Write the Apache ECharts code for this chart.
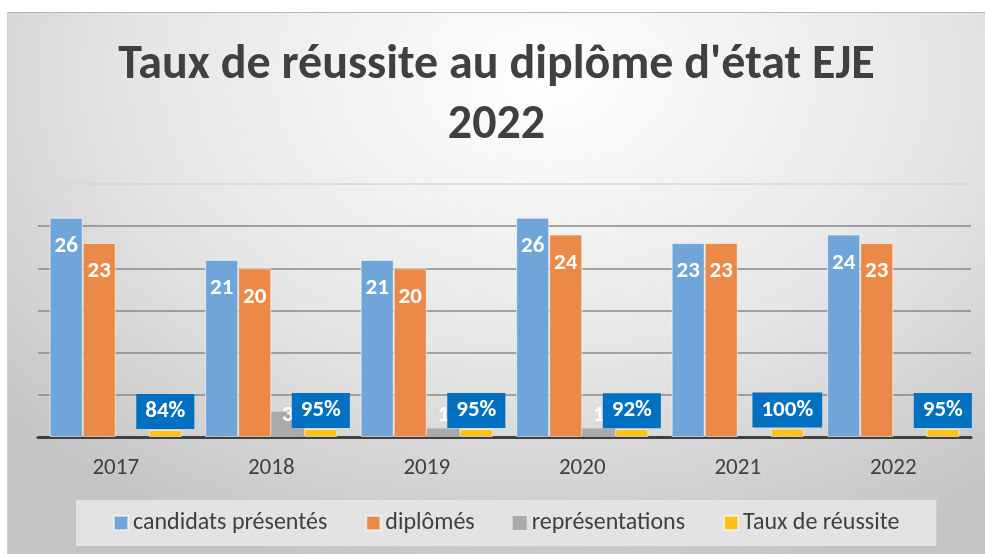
<!DOCTYPE html>
<html>
<head>
<meta charset="utf-8">
<script src="https://cdn.jsdelivr.net/npm/echarts@6/dist/echarts.min.js"></script>
<style>
  html, body { margin: 0; padding: 0; background: #fff; }
  #chart {
    position: absolute; left: 7px; top: 12px; width: 978px; height: 542px;
    border-top: 1px solid #b8b8b8; border-left: 1px solid #d0d0d0;
    box-sizing: border-box;
    background: radial-gradient(ellipse 75% 95% at 55% 12%, #ffffff 0%, #e6e6e6 55%, #c4c4c4 100%);
  }
</style>
</head>
<body>
<div id="chart"></div>
<script>
const years = ['2017', '2018', '2019', '2020', '2021', '2022'];
const candidats = [26, 21, 21, 26, 23, 24];
const diplomes = [23, 20, 20, 24, 23, 23];
const representations = [0, 3, 1, 1, 0, 0];
const tauxReussite = [0.84, 0.95, 0.95, 0.92, 1.00, 0.95];

const font = "Carlito, 'Liberation Sans Narrow', 'Open Sans', sans-serif";

let myChart = echarts.init(document.getElementById('chart'));
let option;

// étiquettes blanches en haut des barres
const whiteLabel = {
  show: true,
  position: 'insideTop',
  distance: 17,
  color: '#fff',
  fontWeight: 'bold',
  fontSize: 23,
  fontFamily: font
};

option = {
  textStyle: { fontFamily: font },
  title: {
    text: "Taux de réussite au diplôme d'état EJE\n2022",
    left: 'center',
    top: 18,
    textStyle: {
      fontSize: 48,
      fontWeight: 'bold',
      color: '#404040',
      lineHeight: 60,
      fontFamily: font
    }
  },
  legend: {
    left: 68,
    top: 487,
    padding: [11, 37],
    backgroundColor: '#e3e3e3',
    itemWidth: 14,
    itemHeight: 14,
    itemGap: 38,
    icon: 'rect',
    textStyle: { fontSize: 24, color: '#404040', fontFamily: font },
    data: ['candidats présentés', 'diplômés', 'représentations', 'Taux de réussite']
  },
  grid: { left: 30, right: 14, top: 171, bottom: 117, containLabel: false },
  xAxis: {
    type: 'category',
    data: years,
    axisLine: { lineStyle: { color: '#404040', width: 3 } },
    axisTick: { show: false },
    axisLabel: { color: '#404040', fontSize: 23, margin: 20, fontFamily: font }
  },
  yAxis: {
    type: 'value',
    min: 0,
    max: 30,
    interval: 5,
    axisLabel: { show: false },
    axisLine: { show: false },
    axisTick: { show: false },
    splitLine: {
      lineStyle: {
        color: ['#8a8a8a', '#8a8a8a', '#8a8a8a', '#8a8a8a', '#8a8a8a', '#8a8a8a', '#d6d6d6'],
        width: 1.5
      }
    }
  },
  series: [
    {
      name: 'candidats présentés',
      type: 'bar',
      data: candidats,
      barGap: '0%',
      barCategoryGap: '15%',
      itemStyle: { color: '#6fa5d8', borderColor: 'rgba(255,255,255,0.55)', borderWidth: 1 },
      label: whiteLabel
    },
    {
      name: 'diplômés',
      type: 'bar',
      data: diplomes,
      itemStyle: { color: '#eb8a48', borderColor: 'rgba(255,255,255,0.55)', borderWidth: 1 },
      label: whiteLabel
    },
    {
      name: 'représentations',
      type: 'bar',
      data: representations,
      itemStyle: { color: '#aaaaaa' },
      label: {
        show: true,
        position: 'insideBottom',
        distance: 10,
        color: '#fff',
        fontWeight: 'bold',
        fontSize: 23,
        fontFamily: font,
        formatter: p => (p.value ? p.value : '')
      }
    },
    {
      name: 'Taux de réussite',
      type: 'bar',
      data: tauxReussite,
      itemStyle: { color: '#fbc21a', borderColor: 'rgba(255,255,255,0.55)', borderWidth: 1 },
      label: {
        show: true,
        position: 'top',
        distance: 1,
        backgroundColor: '#0070c0',
        padding: [6, 9],
        color: '#fff',
        fontWeight: 'bold',
        fontSize: 23,
        fontFamily: font,
        formatter: p => Math.round(p.value * 100) + '%'
      }
    }
  ]
};

option && myChart.setOption(option);
</script>
</body>
</html>
